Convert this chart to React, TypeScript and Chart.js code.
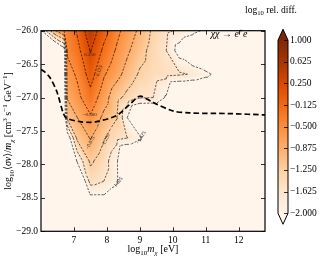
import React, { useEffect, useRef } from "react";
import { Chart, registerables } from "chart.js";
Chart.register(...registerables);

// ---------- data ----------
// grid nodes of the relative-difference field (log10 m_chi [eV], log10 <sigma v>/m_chi)
const gridX = [6.0, 6.4, 6.7, 6.8, 7.1, 7.5, 7.9, 8.3, 8.6, 9.0, 9.4, 9.8, 10.2, 10.6, 11.0, 11.4, 12.0, 12.8];
const gridY = [-26.0, -26.3, -26.65, -27.0, -27.3, -27.6, -27.95, -28.25, -28.45, -28.6, -29.0];
// log10 rel. diff. values, one row per gridY entry (values < -2 are "under")
const zRow2600 = [-2.05, -0.93, -0.5, -0.38, -0.08, 0.5, 0.02, -0.4, -0.65, -0.95, -1.32, -1.55, -1.7, -1.85, -2.1, -2.6, -3, -3];
const zRow2630 = [-3, -3, -2.3, -0.45, -0.25, 0.27, -0.2, -0.55, -0.8, -1.1, -1.4, -1.62, -2.2, -2.6, -3, -3, -3, -3];
const zRow2665 = [-3, -3, -2.3, -0.65, -0.45, 0.03, -0.45, -0.75, -1.0, -1.3, -1.45, -1.52, -1.57, -1.66, -1.85, -2.2, -3, -3];
const zRow2700 = [-3, -3, -2.4, -0.85, -0.6, -0.25, -0.7, -1.14, -1.35, -1.6, -1.62, -2.05, -3, -3, -3, -3, -3, -3];
const zRow2730 = [-3, -3, -2.5, -1.15, -0.88, -0.55, -0.96, -1.23, -1.95, -3, -3, -3, -3, -3, -3, -3, -3, -3];
const zRow2760 = [-3, -3, -3, -2.3, -1.15, -0.85, -1.2, -1.5, -1.6, -1.9, -3, -3, -3, -3, -3, -3, -3, -3];
const zRow2795 = [-3, -3, -3, -3, -1.95, -1.18, -1.45, -1.92, -3, -3, -3, -3, -3, -3, -3, -3, -3, -3];
const zRow2825 = [-3, -3, -3, -3, -2.8, -1.48, -1.62, -1.9, -3, -3, -3, -3, -3, -3, -3, -3, -3, -3];
const zRow2845 = [-3, -3, -3, -3, -3, -1.97, -1.98, -2.3, -3, -3, -3, -3, -3, -3, -3, -3, -3, -3];
const zRow2860 = [-3, -3, -3, -3, -3, -3, -3, -3, -3, -3, -3, -3, -3, -3, -3, -3, -3, -3];
const zRow2900 = [-3, -3, -3, -3, -3, -3, -3, -3, -3, -3, -3, -3, -3, -3, -3, -3, -3, -3];
const zGrid = [zRow2600, zRow2630, zRow2665, zRow2700, zRow2730, zRow2760, zRow2795, zRow2825, zRow2845, zRow2860, zRow2900];

// thick dashed limit curve
const limitX = [6.0, 6.12, 6.27, 6.48, 6.68, 6.78, 7.18, 7.48, 7.69, 8.29, 8.7, 9.0, 9.39, 10.0, 10.52, 11.73, 12.8];
const limitY = [-26.58, -26.62, -26.7, -26.91, -27.24, -27.31, -27.36, -27.37, -27.36, -27.27, -27.1, -26.98, -27.07, -27.2, -27.23, -27.24, -27.26];

const xTicks = [7, 8, 9, 10, 11, 12];
const yTicks = [-29, -28.5, -28, -27.5, -27, -26.5, -26];
const cbarTicks = [-2, -1.625, -1.25, -0.875, -0.5, -0.125, 0.25, 0.625, 1.0];
const contourLevels = [-2, -1.625, -1.25, -0.875, -0.5, -0.125, 0.25, 0.625, 1.0];
const contourLabelText = ["0.250", "−0.125", "−0.500", "−0.875", "−1.250", "−1.625", "−1.625"];

// ---------- styling / layout ----------
const FONT = "'Liberation Serif', 'DejaVu Serif', serif";
const W = 321, H = 262;
const AREA = { left: 41, top: 21, right: 265, bottom: 232 };
const CB = { x: 278, w: 10, top: 31, bottom: 213, tri: 11 };
const CB_MIN = -2 - ((AREA.bottom - CB.bottom) * 3) / (CB.bottom - CB.top);
const CB_MAX = 1 + ((CB.top - AREA.top) * 3) / (CB.bottom - CB.top);
const contourLabelSpots = [
  [7.48, -26.36, 0], [7.76, -26.62, -72], [7.48, -27.26, 0], [7.5, -27.68, -62],
  [7.96, -27.64, -64], [9.04, -27.6, -58], [8.32, -28.28, -50],
];

const ORANGES = ["#fff5eb", "#fee6ce", "#fdd0a2", "#fdae6b", "#fd8d3c", "#f16913", "#d94801", "#a63603", "#7f2704"].map((h) => [
  parseInt(h.slice(1, 3), 16), parseInt(h.slice(3, 5), 16), parseInt(h.slice(5, 7), 16),
]);
function cmap(v: number): number[] {
  let t = (v + 2) / 3;
  if (t < 0) t = 0;
  if (t > 1) t = 1;
  const f = t * (ORANGES.length - 1);
  const i = Math.min(ORANGES.length - 2, Math.floor(f));
  const u = f - i;
  const a = ORANGES[i], b = ORANGES[i + 1];
  return [a[0] + (b[0] - a[0]) * u, a[1] + (b[1] - a[1]) * u, a[2] + (b[2] - a[2]) * u];
}
const rgb = (c: number[]) => `rgb(${Math.round(c[0])},${Math.round(c[1])},${Math.round(c[2])})`;

function findIdx(arr: number[], v: number, desc: boolean) {
  const n = arr.length;
  for (let i = 0; i < n - 1; i++) {
    if (desc ? v >= arr[i + 1] : v <= arr[i + 1]) return i;
  }
  return n - 2;
}
function sampleField(x: number, y: number) {
  const i = findIdx(gridX, x, false);
  const j = findIdx(gridY, y, true);
  const u = Math.max(0, Math.min(1, (x - gridX[i]) / (gridX[i + 1] - gridX[i])));
  const w = Math.max(0, Math.min(1, (y - gridY[j]) / (gridY[j + 1] - gridY[j])));
  const a = zGrid[j][i], b = zGrid[j][i + 1], c = zGrid[j + 1][i], d = zGrid[j + 1][i + 1];
  if (u >= w) return a + u * (b - a) + w * (d - b);
  return a + w * (c - a) + u * (d - c);
}

type Seg = { t: string; s?: "sub" | "sup"; i?: boolean };
function drawRich(ctx: CanvasRenderingContext2D, segs: Seg[], x: number, y: number, size: number, rot = 0) {
  ctx.save();
  ctx.translate(x, y);
  ctx.rotate(rot);
  const fontOf = (sg: Seg) => `${sg.i ? "italic " : ""}${sg.s ? size * 0.7 : size}px ${FONT}`;
  let total = 0;
  for (const sg of segs) {
    ctx.font = fontOf(sg);
    total += ctx.measureText(sg.t).width;
  }
  let cx = -total / 2;
  ctx.textAlign = "left";
  ctx.textBaseline = "alphabetic";
  ctx.fillStyle = "#000";
  for (const sg of segs) {
    ctx.font = fontOf(sg);
    const dy = sg.s === "sub" ? size * 0.28 : sg.s === "sup" ? -size * 0.4 : 0;
    ctx.fillText(sg.t, cx, dy);
    cx += ctx.measureText(sg.t).width;
  }
  ctx.restore();
}

const fieldPlugin = {
  id: "field",
  beforeDatasetsDraw(chart: any) {
    const { ctx, chartArea: a, scales } = chart;
    const sx = scales.x, sy = scales.y;
    const L = Math.round(a.left), T = Math.round(a.top);
    const w = Math.round(a.right) - L, h = Math.round(a.bottom) - T;
    const img = ctx.createImageData(w, h);
    for (let py = 0; py < h; py++) {
      const yv = sy.getValueForPixel(T + py + 0.5);
      for (let px = 0; px < w; px++) {
        const xv = sx.getValueForPixel(L + px + 0.5);
        const c = cmap(sampleField(xv, yv));
        const k = (py * w + px) * 4;
        img.data[k] = c[0];
        img.data[k + 1] = c[1];
        img.data[k + 2] = c[2];
        img.data[k + 3] = 255;
      }
    }
    ctx.putImageData(img, L, T);

    // contour lines (linear on triangles)
    ctx.save();
    ctx.beginPath();
    ctx.rect(a.left, a.top, a.right - a.left, a.bottom - a.top);
    ctx.clip();
    ctx.strokeStyle = "rgba(0,0,0,0.95)";
    ctx.lineWidth = 0.65;
    ctx.setLineDash([2.2, 1.4]);
    const P = (i: number, j: number) => [sx.getPixelForValue(gridX[i]), sy.getPixelForValue(gridY[j])];
    for (const lv of contourLevels) {
      ctx.beginPath();
      for (let j = 0; j < gridY.length - 1; j++) {
        for (let i = 0; i < gridX.length - 1; i++) {
          const tris = [
            [[i, j], [i + 1, j], [i + 1, j + 1]],
            [[i, j], [i, j + 1], [i + 1, j + 1]],
          ];
          for (const tri of tris) {
            const pts: number[][] = [];
            for (let e = 0; e < 3; e++) {
              const p0 = tri[e], p1 = tri[(e + 1) % 3];
              const v0 = zGrid[p0[1]][p0[0]] - lv, v1 = zGrid[p1[1]][p1[0]] - lv;
              if (v0 < 0 !== v1 < 0) {
                const t = v0 / (v0 - v1);
                const q0 = P(p0[0], p0[1]), q1 = P(p1[0], p1[1]);
                pts.push([q0[0] + t * (q1[0] - q0[0]), q0[1] + t * (q1[1] - q0[1])]);
              }
            }
            if (pts.length === 2) {
              ctx.moveTo(pts[0][0], pts[0][1]);
              ctx.lineTo(pts[1][0], pts[1][1]);
            }
          }
        }
      }
      ctx.stroke();
    }
    ctx.setLineDash([]);
    // contour labels
    ctx.fillStyle = "#222";
    ctx.font = `5px ${FONT}`;
    ctx.textAlign = "center";
    ctx.textBaseline = "middle";
    contourLabelSpots.forEach((s, k) => {
      ctx.save();
      ctx.translate(sx.getPixelForValue(s[0]), sy.getPixelForValue(s[1]));
      ctx.rotate((s[2] * Math.PI) / 180);
      ctx.fillText(contourLabelText[k], 0, 0);
      ctx.restore();
    });
    ctx.restore();

    // colorbar
    const cs = scales.cbar;
    const y1 = cs.getPixelForValue(1), y0 = cs.getPixelForValue(-2);
    for (let py = Math.floor(y1); py < Math.ceil(y0); py++) {
      const v = cs.getValueForPixel(py + 0.5);
      ctx.fillStyle = rgb(cmap(v));
      ctx.fillRect(CB.x, py, CB.w, 1);
    }
    ctx.fillStyle = rgb(cmap(1));
    ctx.beginPath();
    ctx.moveTo(CB.x, y1);
    ctx.lineTo(CB.x + CB.w / 2, y1 - CB.tri);
    ctx.lineTo(CB.x + CB.w, y1);
    ctx.closePath();
    ctx.fill();
    ctx.fillStyle = rgb(cmap(-2));
    ctx.beginPath();
    ctx.moveTo(CB.x, y0);
    ctx.lineTo(CB.x + CB.w / 2, y0 + CB.tri);
    ctx.lineTo(CB.x + CB.w, y0);
    ctx.closePath();
    ctx.fill();
    ctx.strokeStyle = "#000";
    ctx.lineWidth = 1;
    ctx.beginPath();
    ctx.moveTo(CB.x, y1);
    ctx.lineTo(CB.x + CB.w / 2, y1 - CB.tri);
    ctx.lineTo(CB.x + CB.w, y1);
    ctx.lineTo(CB.x + CB.w, y0);
    ctx.lineTo(CB.x + CB.w / 2, y0 + CB.tri);
    ctx.lineTo(CB.x, y0);
    ctx.closePath();
    ctx.stroke();
    ctx.lineWidth = 0.8;
    ctx.beginPath();
    for (const t of cbarTicks) {
      const p = Math.round(cs.getPixelForValue(t)) + 0.5;
      ctx.moveTo(CB.x + CB.w - 4, p);
      ctx.lineTo(CB.x + CB.w, p);
    }
    ctx.stroke();
  },
  afterDraw(chart: any) {
    const { ctx, chartArea: a, scales } = chart;
    ctx.save();
    ctx.strokeStyle = "#000";
    ctx.lineWidth = 0.8;
    ctx.beginPath();
    for (const t of xTicks) {
      const p = Math.round(scales.x.getPixelForValue(t)) + 0.5;
      ctx.moveTo(p, a.bottom);
      ctx.lineTo(p, a.bottom - 4);
      ctx.moveTo(p, a.top);
      ctx.lineTo(p, a.top + 4);
    }
    for (const t of yTicks) {
      const p = Math.round(scales.y.getPixelForValue(t)) + 0.5;
      ctx.moveTo(a.left, p);
      ctx.lineTo(a.left + 4, p);
      ctx.moveTo(a.right, p);
      ctx.lineTo(a.right - 4, p);
    }
    ctx.stroke();
    ctx.lineWidth = 1.2;
    ctx.strokeRect(a.left, a.top, a.right - a.left, a.bottom - a.top);
    ctx.restore();

    drawRich(ctx, [{ t: "log" }, { t: "10", s: "sub" }, { t: "m", i: true }, { t: "χ", s: "sub", i: true }, { t: " [eV]" }],
      (a.left + a.right) / 2, 252, 10);
    drawRich(ctx, [
      { t: "log" }, { t: "10", s: "sub" }, { t: "⟨" }, { t: "σv", i: true }, { t: "⟩/" }, { t: "m", i: true }, { t: "χ", s: "sub", i: true },
      { t: " [cm" }, { t: "3", s: "sup" }, { t: " s" }, { t: "−1", s: "sup" }, { t: " GeV" }, { t: "−1", s: "sup" }, { t: "]" },
    ], 11, (a.top + a.bottom) / 2, 10, -Math.PI / 2);
    drawRich(ctx, [{ t: "log" }, { t: "10", s: "sub" }, { t: " rel. diff." }], 271, 12.5, 9.5);
    drawRich(ctx, [{ t: "χχ", i: true }, { t: " → " }, { t: "e", i: true }, { t: "+", s: "sup" }, { t: "e", i: true }, { t: "−", s: "sup" }],
      231, 37, 10);
  },
};

const minus = (s: string) => s.replace("-", "−");

export default function App() {
  const ref = useRef<HTMLCanvasElement>(null);
  useEffect(() => {
    document.body.style.margin = "0";
    const tickFont = { family: FONT, size: 9.5 };
    const chart = new Chart(ref.current as HTMLCanvasElement, {
      type: "scatter",
      data: {
        datasets: [
          {
            data: limitX.map((x, k) => ({ x, y: limitY[k] })),
            showLine: true,
            borderColor: "#000",
            borderWidth: 1.7,
            borderDash: [5.5, 3],
            pointRadius: 0,
            tension: 0.3,
            fill: false,
          } as any,
        ],
      },
      options: {
        responsive: false,
        animation: false,
        events: [],
        layout: { padding: { top: AREA.top, left: 0, right: 0, bottom: 0 } },
        plugins: { legend: { display: false }, tooltip: { enabled: false }, title: { display: false } },
        scales: {
          x: {
            type: "linear",
            position: "bottom",
            min: 6.0,
            max: 12.8,
            grid: { display: false, drawTicks: false },
            border: { display: false },
            afterBuildTicks: (s: any) => { s.ticks = xTicks.map((v) => ({ value: v })); },
            afterFit: (s: any) => { s.height = H - AREA.bottom; },
            ticks: { font: tickFont, color: "#000", padding: 3, autoSkip: false, maxRotation: 0, callback: (v: any) => String(v) },
          },
          y: {
            type: "linear",
            position: "left",
            min: -29,
            max: -26,
            grid: { display: false, drawTicks: false },
            border: { display: false },
            afterBuildTicks: (s: any) => { s.ticks = yTicks.map((v) => ({ value: v })); },
            afterFit: (s: any) => { s.width = AREA.left; },
            ticks: { font: tickFont, color: "#000", padding: 3, autoSkip: false, callback: (v: any) => minus(Number(v).toFixed(1)) },
          },
          cbar: {
            type: "linear",
            position: "right",
            min: CB_MIN,
            max: CB_MAX,
            grid: { display: false, drawTicks: false },
            border: { display: false },
            afterBuildTicks: (s: any) => { s.ticks = cbarTicks.map((v) => ({ value: v })); },
            afterFit: (s: any) => { s.width = W - AREA.right; },
            ticks: { font: tickFont, color: "#000", padding: 25, autoSkip: false, callback: (v: any) => minus(Number(v).toFixed(3)) },
          },
        },
      },
      plugins: [fieldPlugin],
    } as any);
    return () => chart.destroy();
  }, []);
  return (
    <div style={{ width: W, height: H }}>
      <canvas ref={ref} width={W} height={H} style={{ display: "block" }} />
    </div>
  );
}
